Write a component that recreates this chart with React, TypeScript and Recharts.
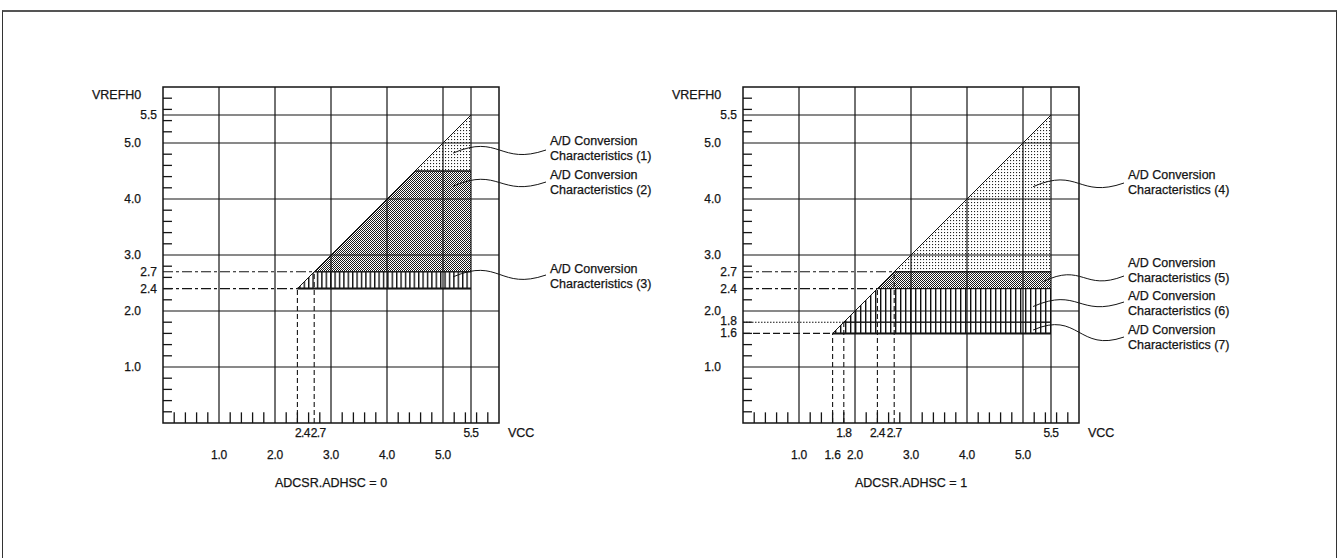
import React from "react";
import { ComposedChart, Area, XAxis, YAxis, ReferenceLine, ReferenceArea } from "recharts";

const FONT = '"Liberation Sans", Arial, Helvetica, sans-serif';
const INK = "#141414";

// ---- ADCSR.ADHSC = 0 ----
const leftXs = [2.4, 2.7, 4.5, 5.5];
const leftChar1 = [null, null, [4.5, 4.5], [4.5, 5.5]];
const leftChar2 = [null, [2.7, 2.7], [2.7, 4.5], [2.7, 4.5]];
const leftChar3 = [[2.4, 2.4], [2.4, 2.7], [2.4, 2.7], [2.4, 2.7]];
const leftXLabels = [1, 2, 2.4, 2.7, 3, 4, 5, 5.5];
const leftXTopRow = [2.4, 2.7, 5.5];
const leftYLabels = [1, 2, 2.4, 2.7, 3, 4, 5, 5.5];
const leftGuides = [2.4, 2.7];

// ---- ADCSR.ADHSC = 1 ----
const rightXs = [1.6, 1.8, 2.4, 2.7, 5.5];
const rightChar4 = [null, null, null, [2.7, 2.7], [2.7, 5.5]];
const rightChar5 = [null, null, [2.4, 2.4], [2.4, 2.7], [2.4, 2.7]];
const rightChar6 = [null, [1.8, 1.8], [1.8, 2.4], [1.8, 2.4], [1.8, 2.4]];
const rightChar7 = [[1.6, 1.6], [1.6, 1.8], [1.6, 1.8], [1.6, 1.8], [1.6, 1.8]];
const rightXLabels = [1, 1.6, 1.8, 2, 2.4, 2.7, 3, 4, 5, 5.5];
const rightXTopRow = [1.8, 2.4, 2.7, 5.5];
const rightYLabels = [1, 1.6, 1.8, 2, 2.4, 2.7, 3, 4, 5, 5.5];
const rightGuides = [1.6, 1.8, 2.4, 2.7];

const gridValues = [1, 2, 3, 4, 5, 5.5];
const minorTicks = [0.2, 0.4, 0.6, 0.8, 1.2, 1.4, 1.6, 1.8, 2.2, 2.4, 2.6, 2.8, 3.2, 3.4, 3.6, 3.8, 4.2, 4.4, 4.6, 4.8, 5.2, 5.4, 5.6, 5.8];

// plot geometry (chart-local pixels)
const PL = 163;
const PT = 87;
const UNIT = 56;
const px = (v: number) => PL + v * UNIT;
const py = (v: number) => PT + (6 - v) * UNIT;

const guideDash: Record<string, string> = {
  "2.7": "10 3 3 3",
  "2.4": "10 3 3 3",
  "1.8": "1.5 1.5",
  "1.6": "7 3",
};

type Note = { n: string; y: number; at: [number, number]; endY: number };

const leftNotes: Note[] = [
  { n: "(1)", y: 141, at: [5.18, 4.82], endY: 150 },
  { n: "(2)", y: 175, at: [5.18, 4.23], endY: 182 },
  { n: "(3)", y: 269, at: [5.18, 2.61], endY: 275 },
];
const rightNotes: Note[] = [
  { n: "(4)", y: 175, at: [5.18, 4.22], endY: 183 },
  { n: "(5)", y: 263, at: [5.35, 2.52], endY: 276 },
  { n: "(6)", y: 296, at: [5.18, 2.08], endY: 302 },
  { n: "(7)", y: 330, at: [5.18, 1.66], endY: 337 },
];

type Band = { key: string; values: (number[] | null)[]; fill: string };

const textStyle = { fontFamily: FONT, fontSize: 12.5, fill: INK, stroke: INK, strokeWidth: 0.25 };

function Patterns({ id, hatch }: { id: string; hatch: number }) {
  return (
    <defs>
      <pattern id={`${id}-light`} width="3" height="3" patternUnits="userSpaceOnUse">
        <rect x="1" y="1" width="1.1" height="1.1" fill="#222" />
      </pattern>
      <pattern id={`${id}-dense`} width="2" height="2" patternUnits="userSpaceOnUse">
        <rect x="0" y="0" width="1" height="1" fill="#1a1a1a" />
        <rect x="1" y="1" width="1" height="1" fill="#1a1a1a" />
      </pattern>
      <pattern id={`${id}-vhatch`} width={hatch} height="4" patternUnits="userSpaceOnUse">
        <rect x="0" y="0" width="1.4" height="4" fill="#111" />
      </pattern>
    </defs>
  );
}

function leader(x0: number, y0: number, x1: number, y1: number) {
  const d = x1 - x0;
  return `M${x0},${y0} C${x0 + 0.5 * d},${y0 - 20} ${x0 + 0.5 * d},${y1 + 16} ${x1},${y1}`;
}

interface PanelProps {
  id: string;
  left: number;
  width: number;
  hatch: number;
  xs: number[];
  bands: Band[];
  xLabels: number[];
  xTopRow: number[];
  yLabels: number[];
  guides: number[];
  notes: Note[];
  title: string;
  baseY: number;
  shift?: Record<string, number>;
}

function Panel(p: PanelProps) {
  const data = p.xs.map((x, i) => {
    const row: Record<string, any> = { x };
    p.bands.forEach((b) => (row[b.key] = b.values[i]));
    return row;
  });
  const textX = 550 - (p.id === "r" ? 2 : 0);

  const xTick = (props: any) => {
    const v = props.payload.value;
    const top = p.xTopRow.includes(v);
    const dx = p.shift?.[String(v)] ?? 0;
    return (
      <text x={props.x + dx} y={props.y + (top ? 10 : 32)} textAnchor="middle" dominantBaseline="central"
        {...textStyle} fontSize={12} letterSpacing={top ? -0.6 : -0.2}>
        {v.toFixed(1)}
      </text>
    );
  };
  const yTick = (props: any) => {
    const v = props.payload.value;
    const round = Number.isInteger(v);
    return (
      <text x={props.x - (round ? 22 : 6)} y={props.y + (v === 1.8 ? -1 : 0)} textAnchor="end" dominantBaseline="central"
        {...textStyle} fontSize={12}>
        {v.toFixed(1)}
      </text>
    );
  };

  return (
    <div style={{ position: "absolute", left: p.left, top: 0 }}>
      <ComposedChart width={p.width} height={558} data={data}
        margin={{ top: PT, left: 0, right: p.width - PL - 6 * UNIT, bottom: 75 }}>
        <Patterns id={p.id} hatch={p.hatch} />
        <XAxis dataKey="x" type="number" domain={[0, 6]} allowDataOverflow ticks={p.xLabels} interval={0}
          tick={xTick} tickLine={false} axisLine={false} tickSize={0} tickMargin={0} height={60} />
        <YAxis type="number" domain={[0, 6]} allowDataOverflow ticks={p.yLabels} interval={0} width={PL}
          tick={yTick} tickLine={false} axisLine={false} tickSize={0} tickMargin={0} />

        {p.bands.map((b) => (
          <Area key={b.key} dataKey={b.key} type="linear" stroke={INK} strokeWidth={1} fill={b.fill}
            fillOpacity={1} dot={false} activeDot={false} isAnimationActive={false} connectNulls={false} />
        ))}

        {gridValues.map((v) => (
          <ReferenceLine key={`gx${v}`} x={v} stroke={INK} strokeWidth={1.2} />
        ))}
        {gridValues.map((v) => (
          <ReferenceLine key={`gy${v}`} y={v} stroke={INK} strokeWidth={1.2} />
        ))}
        <ReferenceArea x1={0} x2={6} y1={0} y2={6} fill="none" fillOpacity={0} stroke={INK} strokeWidth={1.5} />

        {minorTicks.map((v) => (
          <ReferenceLine key={`mx${v}`} segment={[{ x: v, y: 0 }, { x: v, y: 0.19 }]} stroke={INK} strokeWidth={1.3} />
        ))}
        {minorTicks.map((v) => (
          <ReferenceLine key={`my${v}`} segment={[{ x: 0, y: v }, { x: 0.16, y: v }]} stroke={INK} strokeWidth={1.3} />
        ))}

        {p.guides.map((v) => (
          <ReferenceLine key={`hg${v}`} segment={[{ x: 0, y: v }, { x: v, y: v }]} stroke={INK} strokeWidth={1.1}
            strokeDasharray={guideDash[String(v)]} />
        ))}
        {p.guides.map((v) => (
          <ReferenceLine key={`vg${v}`} segment={[{ x: v, y: 0 }, { x: v, y: v }]} stroke={INK} strokeWidth={1.1}
            strokeDasharray="5 3" />
        ))}
        <ReferenceLine segment={[{ x: p.baseY, y: p.baseY }, { x: 5.5, y: p.baseY }]} stroke={INK} strokeWidth={2} />

        <g {...textStyle}>
          <text x={92} y={95} dominantBaseline="central">VREFH0</text>
          <text x={508} y={433} dominantBaseline="central">VCC</text>
          <text x={PL + 3 * UNIT} y={483} textAnchor="middle" dominantBaseline="central">{p.title}</text>
          {p.notes.map((n) => (
            <g key={n.n}>
              <path d={leader(px(n.at[0]), py(n.at[1]), textX - 4, n.endY)} fill="none" stroke={INK} strokeWidth={1} />
              <text x={textX} y={n.y} dominantBaseline="central">A/D Conversion</text>
              <text x={textX} y={n.y + 14.5} dominantBaseline="central">Characteristics {n.n}</text>
            </g>
          ))}
        </g>
      </ComposedChart>
    </div>
  );
}

export default function App() {
  const leftBands: Band[] = [
    { key: "c1", values: leftChar1, fill: "url(#l-light)" },
    { key: "c2", values: leftChar2, fill: "url(#l-dense)" },
    { key: "c3", values: leftChar3, fill: "url(#l-vhatch)" },
  ];
  const rightBands: Band[] = [
    { key: "c4", values: rightChar4, fill: "url(#r-light)" },
    { key: "c5", values: rightChar5, fill: "url(#r-dense)" },
    { key: "c6", values: rightChar6, fill: "url(#r-vhatch)" },
    { key: "c7", values: rightChar7, fill: "url(#r-vhatch)" },
  ];
  return (
    <div style={{ position: "absolute", left: 0, top: 0, width: 1340, height: 558, background: "#fff", overflow: "hidden" }}>
      <div style={{ position: "absolute", left: 2, top: 10, width: 1333, height: 560, borderLeft: "1px solid #333",
        borderRight: "1px solid #333", borderTop: "2px solid #555" }} />
      <Panel id="l" left={0} width={670} hatch={4.4} xs={leftXs} bands={leftBands} xLabels={leftXLabels} xTopRow={leftXTopRow}
        yLabels={leftYLabels} guides={leftGuides} notes={leftNotes} title="ADCSR.ADHSC = 0" baseY={2.4}
        shift={{ "2.4": 5, "2.7": 4 }} />
      <Panel id="r" left={580} width={760} hatch={5} xs={rightXs} bands={rightBands} xLabels={rightXLabels} xTopRow={rightXTopRow}
        yLabels={rightYLabels} guides={rightGuides} notes={rightNotes} title="ADCSR.ADHSC = 1" baseY={1.6} />
    </div>
  );
}
